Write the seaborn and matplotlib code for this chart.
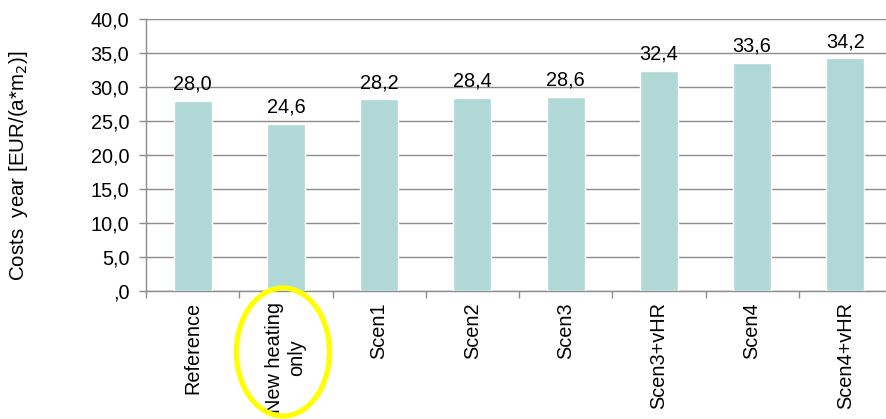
import matplotlib
matplotlib.use("Agg")
import matplotlib.pyplot as plt
import seaborn as sns
import pandas as pd
from matplotlib.patches import Ellipse

categories = ["Reference", "New heating\nonly", "Scen1", "Scen2", "Scen3",
              "Scen3+vHR", "Scen4", "Scen4+vHR"]
costs = [28.0, 24.6, 28.2, 28.4, 28.6, 32.4, 33.6, 34.2]
y_ticks = [0, 5, 10, 15, 20, 25, 30, 35, 40]
y_tick_labels = [",0", "5,0", "10,0", "15,0", "20,0", "25,0", "30,0", "35,0", "40,0"]

sns.set_theme(style="white")
plt.rcParams["font.family"] = ["Liberation Sans", "DejaVu Sans"]

FS = 14.3

df = pd.DataFrame({"scenario": categories, "cost": costs})

fig = plt.figure(figsize=(8.86, 4.19), dpi=100)
ax = fig.add_axes([146 / 886, 1 - 291 / 419, 746 / 886, 272 / 419])

sns.barplot(data=df, x="scenario", y="cost", color="#B0D8D6", width=0.41,
            saturation=1, ax=ax, zorder=3)

ax.set_ylim(0, 40)
ax.set_xlim(-0.5, len(categories) - 0.5)
ax.set_yticks(y_ticks)
ax.set_yticklabels(y_tick_labels, fontsize=FS, color="black")
ax.yaxis.grid(True, color="#8c8c8c", linewidth=1.0, zorder=0)
ax.set_axisbelow(True)

# category boundary ticks on the x axis
ax.set_xticks([i - 0.5 for i in range(len(categories) + 1)], minor=True)
ax.set_xticks(range(len(categories)))
ax.set_xticklabels(categories, rotation=90, fontsize=FS, color="black",
                   ha="center", va="top", multialignment="center")
ax.tick_params(axis="x", which="major", length=0, pad=8)
ax.tick_params(axis="x", which="minor", length=5, color="#8c8c8c", width=1,
               direction="out", bottom=True)
ax.tick_params(axis="y", length=5, color="#8c8c8c", width=1, direction="out",
               left=True, pad=7)

for side in ["top", "right"]:
    ax.spines[side].set_visible(False)
for side in ["left", "bottom"]:
    ax.spines[side].set_color("#8c8c8c")
    ax.spines[side].set_linewidth(1.0)

ax.set_xlabel("")
ax.set_ylabel("")
fig.text(19 / 886, 1 - 166 / 419, "Costs  year [EUR/(a*m$_2$)]", rotation=90,
         ha="center", va="center", fontsize=FS + 0.5, color="black")

for i, v in enumerate(costs):
    ax.annotate(f"{v:.1f}".replace(".", ","), (i, v), xytext=(0, 5),
                textcoords="offset points", ha="center", va="bottom",
                fontsize=FS, color="black")

# highlight around the second category label
ell = Ellipse((283 / 886, 1 - 352 / 419), 93 / 886, 128 / 419,
              transform=fig.transFigure, fill=False, edgecolor="#FFFF00",
              linewidth=3.8, clip_on=False)
fig.add_artist(ell)

fig.savefig("out.png", dpi=100)
